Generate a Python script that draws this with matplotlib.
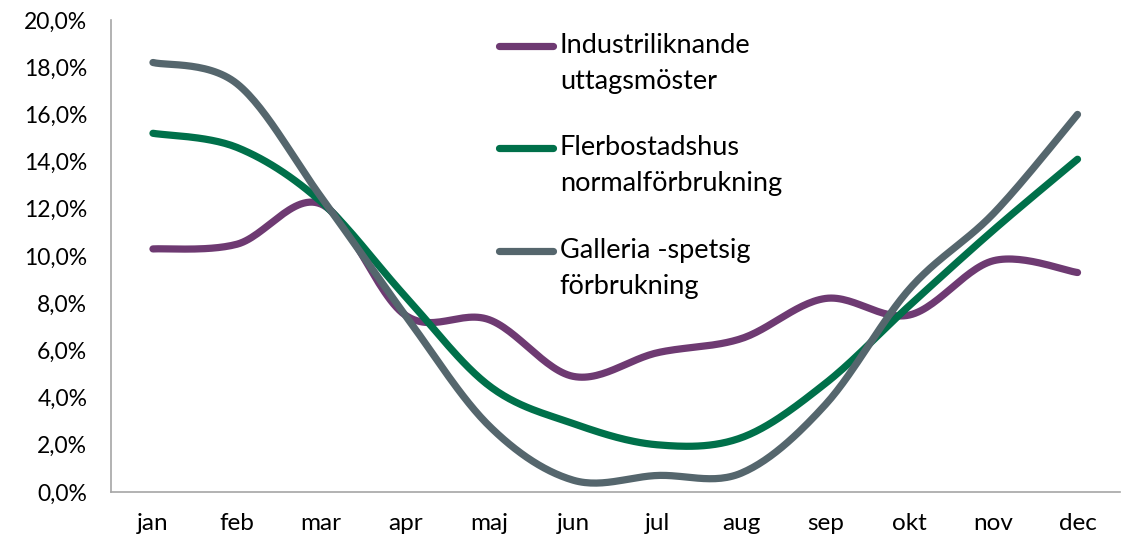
import matplotlib
matplotlib.use("Agg")
from matplotlib import pyplot as plt
from matplotlib.ticker import FuncFormatter
import numpy as np

months = ["jan", "feb", "mar", "apr", "maj", "jun", "jul", "aug", "sep", "okt", "nov", "dec"]
industri = [10.3, 10.5, 12.2, 7.5, 7.3, 4.9, 5.9, 6.5, 8.2, 7.5, 9.8, 9.3]
flerbostad = [15.2, 14.6, 12.3, 8.3, 4.5, 2.9, 2.0, 2.3, 4.6, 7.9, 11.1, 14.1]
galleria = [18.2, 17.3, 12.5, 7.5, 2.8, 0.5, 0.7, 0.8, 3.7, 8.6, 11.8, 16.0]

labels = [("Industriliknande", "uttagsmöster"),
          ("Flerbostadshus", "normalförbrukning"),
          ("Galleria -spetsig", "förbrukning")]
colors = ["#6E3A72", "#00704A", "#55666D"]

plt.rcParams['font.family'] = ['Lato', 'DejaVu Sans']


def smooth(y, n=30):
    # Excel-like smoothed line: cubic bezier with catmull-rom control points
    y = np.asarray(y, dtype=float)
    x = np.arange(len(y), dtype=float)
    pts = np.column_stack([x, y])
    out = []
    for i in range(len(pts) - 1):
        p0 = pts[max(i - 1, 0)]
        p1 = pts[i]
        p2 = pts[i + 1]
        p3 = pts[min(i + 2, len(pts) - 1)]
        c1 = p1 + (p2 - p0) / 6
        c2 = p2 - (p3 - p1) / 6
        t = np.linspace(0, 1, n)[:, None]
        seg = (1 - t) ** 3 * p1 + 3 * (1 - t) ** 2 * t * c1 + 3 * (1 - t) * t ** 2 * c2 + t ** 3 * p2
        out.append(seg if i == 0 else seg[1:])
    out = np.vstack(out)
    return out[:, 0], out[:, 1]


fig = plt.figure(figsize=(11.32, 5.41), dpi=100)
ax = fig.add_axes([0.098, 0.0906, 0.891, 0.8724])

for series, c in zip([industri, flerbostad, galleria], colors):
    xs, ys = smooth(series)
    ax.plot(xs, ys, color=c, lw=5.2, solid_capstyle='round', solid_joinstyle='round')

ax.set_xlim(-0.5, 11.5)
ax.set_ylim(0, 20)
ax.set_xticks(range(12))
ax.set_xticklabels(months)
ax.set_yticks(np.arange(0, 21, 2))
ax.yaxis.set_major_formatter(FuncFormatter(lambda v, p: ("%.1f%%" % v).replace(".", ",")))
ax.tick_params(axis='both', length=0, colors='#000000')
ax.tick_params(axis='y', pad=17, labelsize=16.5)
ax.tick_params(axis='x', pad=15, labelsize=17.5)
for s in ['top', 'right']:
    ax.spines[s].set_visible(False)
for s in ['left', 'bottom']:
    ax.spines[s].set_color('#A6A6A6')
    ax.spines[s].set_linewidth(1.2)

# legend drawn by hand so the handle sits on the first text line
leg_y = [0.945, 0.729, 0.511]
line_gap = 0.075
for (l1, l2), c, yy in zip(labels, colors, leg_y):
    ax.plot([0.385, 0.438], [yy, yy], transform=ax.transAxes, color=c, lw=5.2,
            solid_capstyle='round', clip_on=False)
    ax.text(0.445, yy, l1, transform=ax.transAxes, fontsize=19.5, va='center', ha='left')
    ax.text(0.445, yy - line_gap, l2, transform=ax.transAxes, fontsize=19.5, va='center', ha='left')

plt.savefig("out.png", dpi=100)
